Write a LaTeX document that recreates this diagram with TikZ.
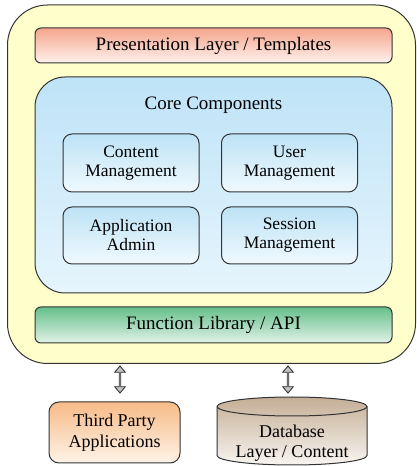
\documentclass[tikz,border=0pt]{standalone}
\usepackage{fontspec}
\setmainfont{Liberation Serif}
\usetikzlibrary{shapes.arrows,positioning}
\definecolor{outerfill}{HTML}{FFFFCC}
\definecolor{prestop}{HTML}{F4A58C}
\definecolor{presbot}{HTML}{FFF2EE}
\definecolor{coretop}{HTML}{BEE3F7}
\definecolor{corebot}{HTML}{E6F5FD}
\definecolor{intop}{HTML}{BDE3F6}
\definecolor{inbot}{HTML}{F0F9FE}
\definecolor{funtop}{HTML}{66BF8A}
\definecolor{funbot}{HTML}{E2F2E8}
\definecolor{tptop}{HTML}{F7BB87}
\definecolor{tpbot}{HTML}{FEF3E8}
\definecolor{dbtop}{HTML}{C4AE95}
\definecolor{dbbot}{HTML}{F8F5F0}
\definecolor{edge}{HTML}{333333}
\definecolor{arrowgray}{HTML}{C4C4C4}
\tikzset{
  box/.style={draw=edge, line width=1pt, rectangle, inner sep=0pt, align=center},
  bigtext/.style={font=\fontsize{19}{22}\selectfont},
  intext/.style={font=\fontsize{17.5}{19}\selectfont},
  bottext/.style={font=\fontsize{18}{20.5}\selectfont},
  layerbox/.style={box, minimum width=357pt, rounded corners=6pt, bigtext},
  compbox/.style={box, minimum width=136pt, minimum height=58pt, rounded corners=9pt,
    top color=intop, bottom color=inbot, intext},
  darrow/.style={double arrow, draw=edge, line width=0.9pt, fill=arrowgray, rotate=90,
    minimum height=27pt, minimum width=10.5pt, inner sep=0pt,
    double arrow head extend=2.75pt, double arrow head indent=0pt, double arrow tip angle=80}
}
\begin{document}
\begin{tikzpicture}[x=1pt,y=1pt]
\useasboundingbox (0,0) rectangle (416,466);
% outer container
\node[box, fill=outerfill, minimum width=408pt, minimum height=358.5pt, rounded corners=40pt] (outer) at (211.5,281.75) {};
% presentation layer
\node[layerbox, minimum height=35pt, top color=prestop, bottom color=presbot] (pres) at (213.5,420.5) {Presentation Layer / Templates};
% core components
\node[box, minimum width=357pt, minimum height=216pt, rounded corners=30pt, top color=coretop, bottom color=corebot] (core) at (213.5,281) {};
\node[bigtext] (coretitle) at (213.5,361) {Core Components};
\node[compbox] (content) at (131,303) {Content\\Management};
\node[compbox] (user) at (289.5,303) {User\\Management};
\node[compbox, minimum height=57pt] (admin) at (131,230.5) {Application\\Admin};
\node[compbox, minimum height=57pt] (session) at (289.5,230.5) {Session\\Management};
% function library
\node[layerbox, minimum height=36pt, top color=funtop, bottom color=funbot] (func) at (213.5,141) {Function Library / API};
% third party
\node[box, minimum width=131pt, minimum height=61pt, rounded corners=10pt, top color=tptop, bottom color=tpbot, bottext] (third) at (114.5,33.5) {Third Party\\Applications};
% database cylinder
\coordinate (dbtl) at (217,59.5);
\coordinate (dbbl) at (217,10.5);
\shade[top color=dbtop, bottom color=dbbot, draw=edge, line width=1pt]
  (dbtl) arc[start angle=180, end angle=0, x radius=75pt, y radius=9.5pt]
  -- (367,10.5) arc[start angle=0, end angle=-180, x radius=75pt, y radius=9.5pt] -- cycle;
\draw[edge, line width=1pt] (dbtl) arc[start angle=180, end angle=360, x radius=75pt, y radius=9.5pt];
\node[bottext, align=center] (db) at (292,23) {Database\\Layer / Content};
% connectors
\node[darrow] (arrowtp) at (120,86.5) {};
\node[darrow] (arrowdb) at (288,86.5) {};
\end{tikzpicture}
\end{document}
